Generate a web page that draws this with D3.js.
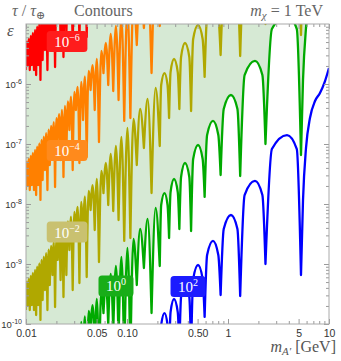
<!DOCTYPE html>
<html>
<head>
<meta charset="utf-8">
<script src="https://cdn.jsdelivr.net/npm/d3@7"></script>
<style>
  body { margin: 0; background: #fff; }
  svg { display: block; }
</style>
</head>
<body>
<div id="chart"></div>
<script>
// 10^0 contour. The others are the same curve moved by the contour level.
// resonance dips (sharp cusps)
const dipMass = [0.00998, 0.0104, 0.0109, 0.0114, 0.0120, 0.0126, 0.0132, 0.0139, 0.0146, 0.0154,
  0.0163, 0.0172, 0.0183, 0.0194, 0.0206, 0.0220, 0.0235, 0.0251, 0.0269, 0.0290,
  0.0312, 0.0338, 0.0367, 0.0399, 0.0436, 0.0479, 0.0528, 0.0585, 0.0652, 0.0731,
  0.0825, 0.0939, 0.108, 0.125, 0.147, 0.175, 0.211, 0.261, 0.330, 0.431,
  0.587, 0.845, 1.32, 2.35, 5.28];
const dipEps = [1.71e-12, 2.07e-12, 1.71e-12, 2.07e-12, 1.71e-12, 1.41e-12, 2.07e-12, 1.17e-12, 2.51e-12, 3.69e-12,
  1.71e-12, 4.47e-12, 6.56e-12, 1.92e-12, 1.17e-11, 5.41e-12, 2.82e-12, 6.56e-12, 1.71e-11, 3.69e-12,
  3.69e-11, 4.82e-12, 2.51e-11, 6.07e-12, 7.94e-11, 3.69e-11, 1.08e-11, 1.52e-10, 9.62e-11, 7.64e-11,
  5.41e-11, 2.42e-11, 2.71e-11, 4.47e-10, 8.58e-10, 1.52e-10, 9.26e-10, 2.71e-9, 3.83e-9, 3.55e-9,
  1.31e-8, 3.04e-8, 2.93e-8, 1.0e-7, 6.56e-8];

// tops of the arcs between dips
const topMass = [0.01019, 0.01065, 0.01115, 0.0117, 0.0123, 0.0129, 0.01355, 0.01425, 0.01499, 0.01584,
  0.01674, 0.01774, 0.01884, 0.0200, 0.0213, 0.0227, 0.0243, 0.0260, 0.0279, 0.0301,
  0.0325, 0.0352, 0.0383, 0.0417, 0.0457, 0.0503, 0.0557, 0.0618, 0.0690, 0.0777,
  0.0880, 0.101, 0.116, 0.135, 0.160, 0.192, 0.235, 0.292, 0.375, 0.505,
  0.710, 1.07, 1.85, 3.84];
const topEps = [5.07e-12, 5.65e-12, 6.33e-12, 7.11e-12, 8.0e-12, 9.02e-12, 1.02e-11, 1.17e-11, 1.32e-11, 1.51e-11,
  1.74e-11, 2.0e-11, 2.32e-11, 2.69e-11, 3.14e-11, 3.69e-11, 4.33e-11, 5.15e-11, 6.14e-11, 7.38e-11,
  8.91e-11, 1.08e-10, 1.34e-10, 1.66e-10, 2.07e-10, 2.63e-10, 3.55e-10, 4.82e-10, 6.81e-10, 9.26e-10,
  1.31e-9, 1.85e-9, 2.61e-9, 3.83e-9, 5.62e-9, 8.58e-9, 1.52e-8, 2.61e-8, 4.82e-8, 9.62e-8,
  2.42e-7, 6.56e-7, 2.42e-6, 1.41e-5];

// shoulders of the wide arcs
const shoulderMass = [0.218, 0.252, 0.270, 0.318, 0.343, 0.414, 0.452, 0.561,
  0.621, 0.802, 0.907, 1.24, 1.46, 2.19, 2.72, 4.80];
const shoulderEps = [9.62e-9, 9.62e-9, 1.58e-8, 1.58e-8, 2.82e-8, 2.82e-8, 5.62e-8, 5.62e-8,
  1.41e-7, 1.41e-7, 3.83e-7, 3.83e-7, 1.41e-6, 1.41e-6, 8.25e-6, 8.25e-6];

// rise after the last resonance
const tailMass = [5.53, 5.92, 6.48, 7.27, 8.14, 9.13, 10.0];
const tailEps = [1.17e-6, 8.58e-6, 2.71e-5, 5.21e-5, 7.08e-5, 1.12e-4, 1.85e-4];

// contour levels (tau / tau_earth = 10^level) and their colours
const levels = [-6, -4, -2, 0, 2];
const levelColors = ["#ff0000", "#ff8000", "#b0a800", "#00aa00", "#0000ff"];
const labelFills = ["#ff1c1c", "#ff8a1c", "#c9c170", "#18ad18", "#1c1cff"];
const labelMass = [0.0255, 0.0255, 0.0255, 0.0778, 0.402];
const labelEps = [5.1e-6, 7.8e-8, 3.4e-9, 4.3e-10, 4.2e-10];

const xTicks = [0.01, 0.05, 0.1, 0.5, 1, 5, 10];
const xTickLabels = ["0.01", "0.05", "0.10", "0.50", "1", "5", "10"];
const xMinor = [0.02, 0.03, 0.04, 0.06, 0.07, 0.08, 0.09, 0.2, 0.3, 0.4, 0.6, 0.7, 0.8, 0.9, 2, 3, 4, 6, 7, 8, 9];
const yExponents = [-10, -9, -8, -7, -6];

const W = 341, H = 361;
const L = 26, R = 329, T = 24, B = 324;

const x = d3.scaleLog().domain([0.01, 10]).range([L, R]);
const y = d3.scaleLog().domain([1e-10, 1e-5]).range([B, T]);

const yMajor = yExponents.map(p => Math.pow(10, p));
const yMinor = [];
yMajor.forEach(v => { for (let k = 2; k <= 9; k++) yMinor.push(v * k); });

// merge points, split into arcs at the dips
const pts = [];
dipMass.forEach((m, i) => pts.push({ m, e: dipEps[i], dip: true }));
topMass.forEach((m, i) => pts.push({ m, e: topEps[i], dip: false }));
shoulderMass.forEach((m, i) => pts.push({ m, e: shoulderEps[i], dip: false }));
tailMass.forEach((m, i) => pts.push({ m, e: tailEps[i], dip: false }));
pts.sort((a, b) => a.m - b.m);

const segs = [];
let cur = [];
pts.forEach(p => {
  cur.push(p);
  if (p.dip) {
    if (cur.length > 1) segs.push(cur);
    cur = [p];
  }
});
if (cur.length > 1) segs.push(cur);

function contourPath(level) {
  const f = Math.pow(10, -level);
  const line = d3.line()
    .x(d => x(d.m))
    .y(d => y(d.e * f))
    .curve(d3.curveMonotoneX);
  return segs.map((s, i) => i ? line(s).replace(/^M/, "L") : line(s)).join("");
}

const svg = d3.select("#chart").append("svg")
  .attr("width", W)
  .attr("height", H);

svg.append("defs").append("clipPath").attr("id", "plot")
  .append("rect")
  .attr("x", L).attr("y", T)
  .attr("width", R - L).attr("height", B - T);

const plot = svg.append("g").attr("clip-path", "url(#plot)");

// shaded region above the 10^0 contour
const green = contourPath(0);
plot.append("path")
  .attr("d", `M${x(pts[0].m)},${T}` + green.replace(/^M/, "L") + `L${x(10)},${T}Z`)
  .attr("fill", "#d6e9d4");

levels.forEach((lv, i) => {
  plot.append("path")
    .attr("d", contourPath(lv))
    .attr("fill", "none")
    .attr("stroke", levelColors[i])
    .attr("stroke-width", 2.3)
    .attr("stroke-linejoin", "round");
});

// frame and inward ticks on all four sides
const tickColor = "#9a9a9a";
function styleAxis(g) {
  g.select(".domain").remove();
  g.selectAll(".tick line").attr("stroke", tickColor);
}

svg.append("g").attr("transform", `translate(0,${B})`)
  .call(d3.axisBottom(x).tickValues(xMinor).tickSize(-3).tickFormat(""))
  .call(styleAxis);
svg.append("g").attr("transform", `translate(0,${B})`)
  .call(d3.axisBottom(x).tickValues(xTicks).tickSize(-5).tickPadding(6)
    .tickFormat((d, i) => xTickLabels[i]))
  .call(styleAxis)
  .call(g => g.selectAll(".tick text")
    .attr("fill", "#333")
    .style("font-family", "'Liberation Sans', Arial, sans-serif")
    .style("font-size", "10.5px"));

svg.append("g").attr("transform", `translate(0,${T})`)
  .call(d3.axisTop(x).tickValues(xMinor).tickSize(-3).tickFormat(""))
  .call(styleAxis);
svg.append("g").attr("transform", `translate(0,${T})`)
  .call(d3.axisTop(x).tickValues(xTicks).tickSize(-5).tickFormat(""))
  .call(styleAxis);

svg.append("g").attr("transform", `translate(${L},0)`)
  .call(d3.axisLeft(y).tickValues(yMinor).tickSize(-3).tickFormat(""))
  .call(styleAxis);
svg.append("g").attr("transform", `translate(${L},0)`)
  .call(d3.axisLeft(y).tickValues(yMajor).tickSize(-5).tickPadding(4).tickFormat(""))
  .call(styleAxis)
  .call(g => g.selectAll(".tick text").each(function (d, i) {
    const t = d3.select(this)
      .attr("fill", "#333")
      .style("font-family", "'Liberation Sans', Arial, sans-serif")
      .style("font-size", "9.5px");
    t.append("tspan").text("10");
    t.append("tspan").attr("dy", "-4").style("font-size", "7px").text("-" + (-yExponents[i]));
  }));

svg.append("g").attr("transform", `translate(${R},0)`)
  .call(d3.axisRight(y).tickValues(yMinor).tickSize(-3).tickFormat(""))
  .call(styleAxis);
svg.append("g").attr("transform", `translate(${R},0)`)
  .call(d3.axisRight(y).tickValues(yMajor).tickSize(-5).tickFormat(""))
  .call(styleAxis);

svg.append("rect")
  .attr("x", L).attr("y", T)
  .attr("width", R - L).attr("height", B - T)
  .attr("fill", "none")
  .attr("stroke", "#aaa")
  .attr("stroke-width", 1);

// contour labels
const serif = "'Liberation Serif', 'Times New Roman', 'DejaVu Serif', serif";
levels.forEach((lv, i) => {
  const cx = x(labelMass[i]), cy = y(labelEps[i]);
  const g = svg.append("g");
  const rect = g.append("rect").attr("fill", labelFills[i]).attr("rx", 3.5);
  const t = g.append("text")
    .attr("x", cx).attr("y", cy + 5.5)
    .attr("text-anchor", "middle")
    .attr("fill", "#fff")
    .style("font-family", serif)
    .style("font-size", "15px");
  t.append("tspan").text("10");
  t.append("tspan").attr("dy", "-6").style("font-size", "10px")
    .text(lv < 0 ? "\u2212" + (-lv) : String(lv));
  const bw = t.node().getBBox().width + 15;
  rect.attr("x", cx - bw / 2).attr("y", cy - 10.5).attr("width", bw).attr("height", 21);
});

// titles
const title = svg.append("text")
  .attr("x", 12).attr("y", 16)
  .attr("fill", "#666")
  .style("font-family", serif)
  .style("font-size", "16px");
title.append("tspan").style("font-style", "italic").text("\u03c4");
title.append("tspan").text(" / ");
title.append("tspan").style("font-style", "italic").text("\u03c4");
title.append("tspan").attr("dy", 3).style("font-size", "11px").text("\u2295");
title.append("tspan").attr("dy", -3).attr("x", 74).text("Contours");

const mchi = svg.append("text")
  .attr("x", 323).attr("y", 16)
  .attr("text-anchor", "end")
  .attr("fill", "#666")
  .style("font-family", serif)
  .style("font-size", "16px");
mchi.append("tspan").style("font-style", "italic").text("m");
mchi.append("tspan").attr("dy", 3).style("font-size", "11px").style("font-style", "italic").text("\u03c7");
mchi.append("tspan").attr("dy", -3).text(" = 1 TeV");

svg.append("text")
  .attr("x", 7).attr("y", 36)
  .attr("fill", "#555")
  .style("font-family", serif)
  .style("font-size", "17px")
  .style("font-style", "italic")
  .text("\u03b5");

const xl = svg.append("text")
  .attr("x", 336).attr("y", 352)
  .attr("text-anchor", "end")
  .attr("fill", "#555")
  .style("font-family", serif)
  .style("font-size", "16px");
xl.append("tspan").style("font-style", "italic").text("m");
xl.append("tspan").attr("dy", 3).style("font-size", "11px").style("font-style", "italic").text("A\u2032");
xl.append("tspan").attr("dy", -3).text(" [GeV]");
</script>
</body>
</html>
